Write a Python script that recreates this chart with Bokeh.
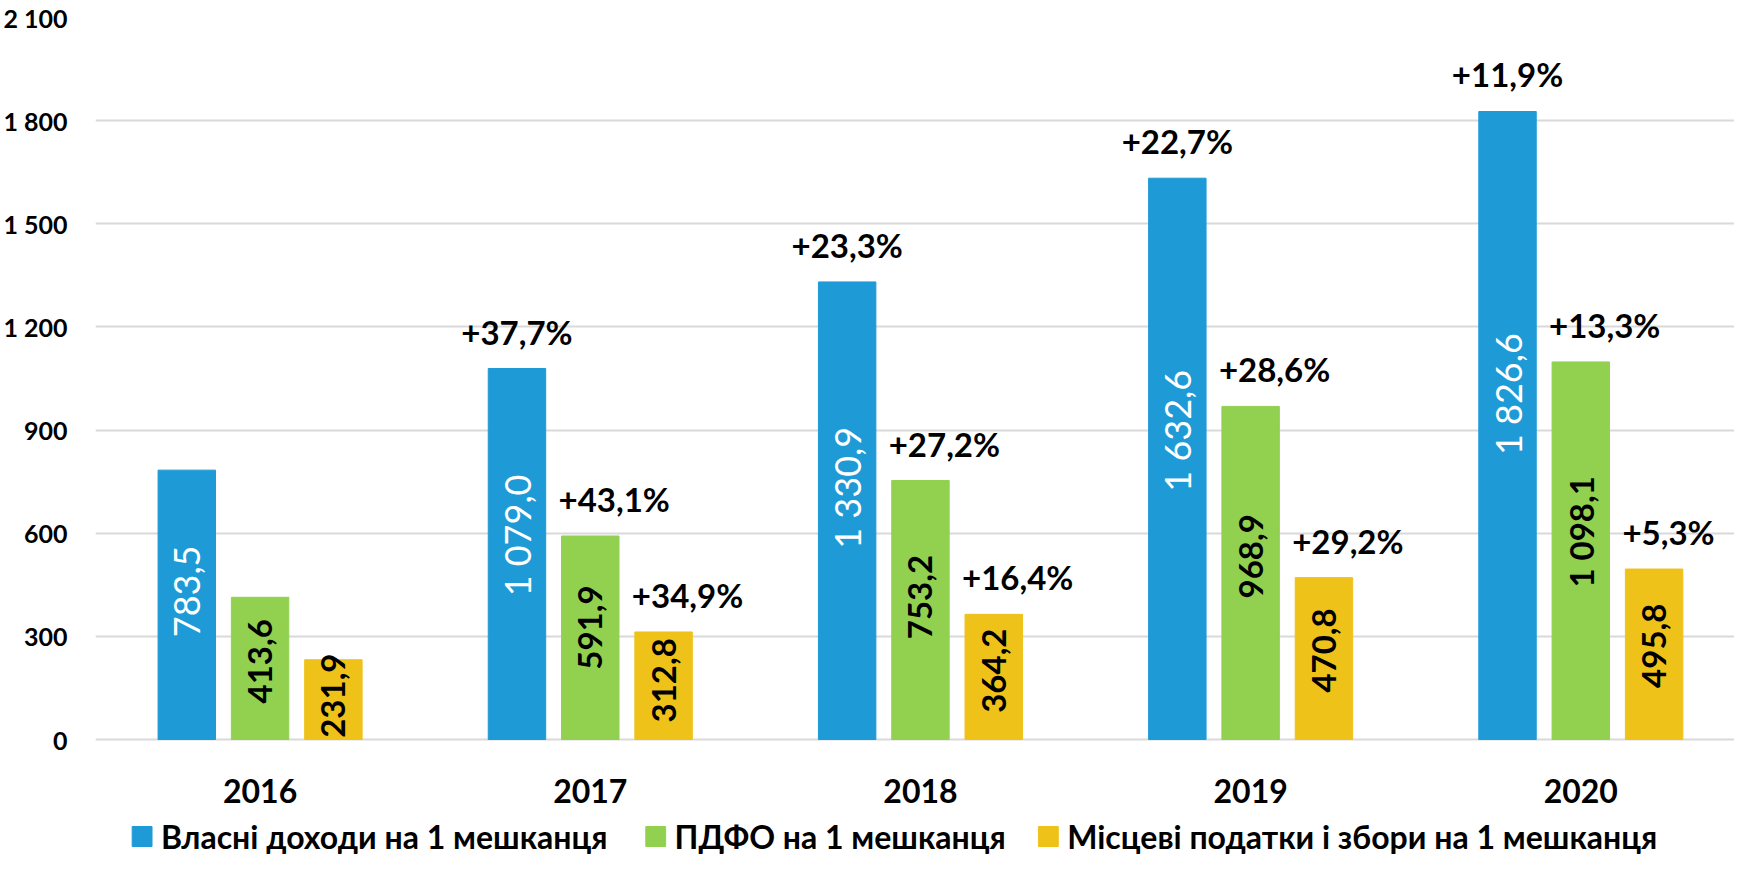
from bokeh.plotting import figure
from bokeh.models import ColumnDataSource, FixedTicker, Range1d
from bokeh.core.properties import value
from bokeh.embed import file_html
from bokeh.resources import INLINE
import math

# ---- data ----
years = ["2016", "2017", "2018", "2019", "2020"]
own_income = [783.5, 1079.0, 1330.9, 1632.6, 1826.6]
pdfo = [413.6, 591.9, 753.2, 968.9, 1098.1]
local_taxes = [231.9, 312.8, 364.2, 470.8, 495.8]
own_pct = ["", "+37,7%", "+23,3%", "+22,7%", "+11,9%"]
pdfo_pct = ["", "+43,1%", "+27,2%", "+28,6%", "+13,3%"]
local_pct = ["", "+34,9%", "+16,4%", "+29,2%", "+5,3%"]
series_names = ["Власні доходи на 1 мешканця", "ПДФО на 1 мешканця",
                "Місцеві податки і збори на 1 мешканця"]
y_ticks = [0, 300, 600, 900, 1200, 1500, 1800, 2100]
y_tick_labels = ["0", "300", "600", "900", "1 200", "1 500", "1 800", "2 100"]

colors = ["#1E9BD7", "#92D050", "#EFC21A"]
label_colors = ["white", "black", "black"]
label_styles = ["normal", "bold", "bold"]
label_sizes = ["36px", "33px", "33px"]
FONT = "Lato"

# ---- layout constants (pixels) ----
W, H = 1734, 855
LEFT, TOP = 81, 17
PLOT_H = 722                      # pixels from 2100 down to 0
CAT_W = 333                       # pixels per year group
FIRST_CENTER = 166                # first group centre from frame left
px_per_unit = PLOT_H / 2100
y_start = -(H - TOP - PLOT_H) / px_per_unit
x_start = -FIRST_CENTER / CAT_W
x_end = x_start + (W - LEFT) / CAT_W


def fmt(v):
    return f"{v:,.1f}".replace(",", " ").replace(".", ",")


xs = list(range(len(years)))

p = figure(width=W, height=H, x_range=Range1d(x_start, x_end),
           y_range=Range1d(y_start, 2100), output_backend="svg", toolbar_location=None,
           x_axis_location=None,
           min_border_left=LEFT, min_border_right=0, min_border_top=TOP, min_border_bottom=0)
p.outline_line_color = None
p.xgrid.visible = False
p.ygrid.grid_line_color = "#D9D9D9"
p.ygrid.grid_line_width = 2

p.yaxis.ticker = FixedTicker(ticks=y_ticks)
p.yaxis.major_label_overrides = {t: l for t, l in zip(y_ticks, y_tick_labels)}
p.yaxis.axis_line_color = None
p.yaxis.major_tick_line_color = None
p.yaxis.minor_tick_line_color = None
p.yaxis.major_label_text_font = FONT
p.yaxis.major_label_text_font_style = "bold"
p.yaxis.major_label_text_font_size = "25px"
p.yaxis.major_label_text_color = "black"
p.yaxis.major_label_standoff = 22

offsets = [-0.222, 0.0, 0.222]
bw = 0.174
for vals, pcts, off, col, lc, ls, lsz in zip([own_income, pdfo, local_taxes],
                                            [own_pct, pdfo_pct, local_pct],
                                            offsets, colors, label_colors, label_styles,
                                            label_sizes):
    src = ColumnDataSource(dict(
        x=[i + off for i in xs], xl=[i + off - bw / 2 for i in xs],
        val=vals, mid=[v * 0.55 for v in vals],
        lbl=[fmt(v) for v in vals], pct=pcts))
    p.vbar(x="x", top="val", width=bw, bottom=0, source=src,
           fill_color=col, line_color=col)
    p.text(x="x", y="mid", text="lbl", source=src,
           angle=math.pi / 2, text_align="center", text_baseline="middle",
           text_font=value(FONT), text_font_size=lsz, text_font_style=ls,
           text_color=lc)
    if off < 0:
        p.text(x="x", y="val", text="pct", source=src,
               text_align="center", text_baseline="alphabetic", y_offset=-37,
               text_font=value(FONT), text_font_size="33px", text_font_style="bold",
               text_color="black")
    else:
        p.text(x="xl", y="val", text="pct", source=src,
               text_align="left", text_baseline="alphabetic",
               y_offset=-37, x_offset=-3,
               text_font=value(FONT), text_font_size="33px", text_font_style="bold",
               text_color="black")

# year labels under the groups
ysrc = ColumnDataSource(dict(x=xs, y=[0] * len(xs), t=years))
p.text(x="x", y="y", text="t", source=ysrc, y_offset=51, text_align="center",
       text_baseline="middle", text_font=value(FONT), text_font_style="bold",
       text_font_size="32px", text_color="black")

# ---- legend (pixel coordinates) ----
p.extra_x_ranges = {"px": Range1d(LEFT, W)}
p.extra_y_ranges = {"px": Range1d(H, TOP)}
leg_item_x = [118, 636, 1032]   # left edge of each swatch
sw = 20
leg_top = 826
leg_src = ColumnDataSource(dict(
    left=leg_item_x, right=[x + sw for x in leg_item_x],
    tx=[x + sw + 9 for x in leg_item_x], name=series_names, color=colors))
p.quad(left="left", right="right", top=leg_top, bottom=leg_top + sw,
       fill_color="color", line_color="color", source=leg_src,
       x_range_name="px", y_range_name="px")
p.text(x="tx", y=leg_top + sw / 2, text="name", source=leg_src, text_align="left",
       text_baseline="middle", text_font=value(FONT), text_font_style="bold",
       text_font_size="32px", text_color="black", x_range_name="px", y_range_name="px")

open("out.html", "w").write(file_html(p, INLINE))
